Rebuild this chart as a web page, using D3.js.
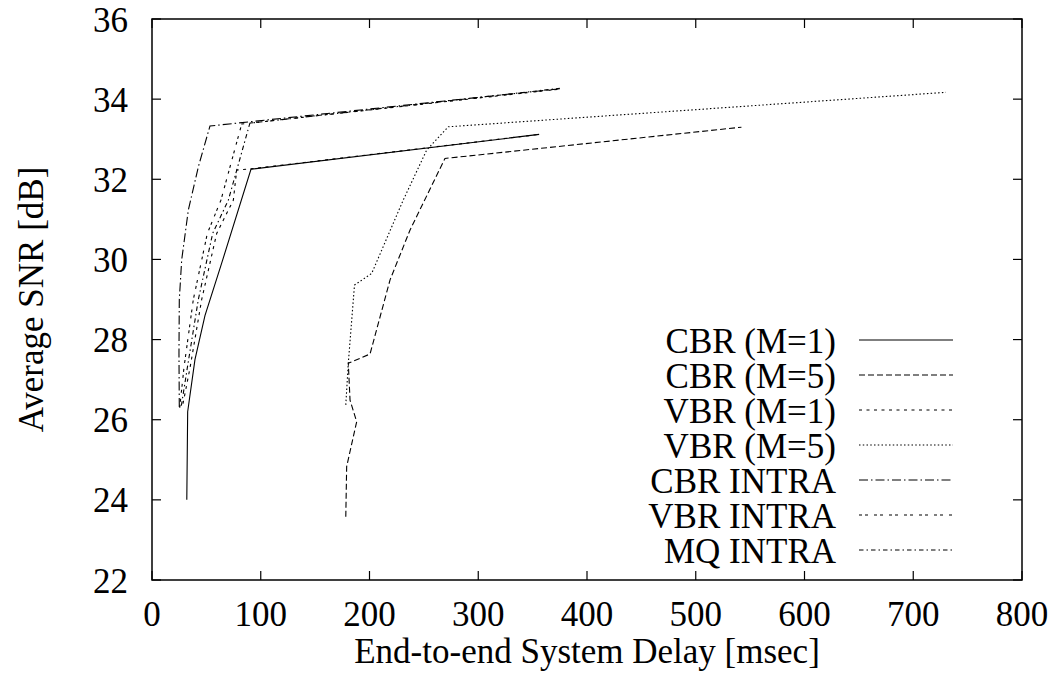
<!DOCTYPE html>
<html>
<head>
<meta charset="utf-8">
<script src="https://cdn.jsdelivr.net/npm/d3@7"></script>
<style>
  body { margin: 0; background: #fff; }
  svg { display: block; }
  text { font-family: "Liberation Serif", "DejaVu Serif", serif; fill: #000; }
</style>
</head>
<body>
<svg width="1055" height="693"></svg>
<script>
// Delay [msec] / average SNR [dB], one pair of arrays per curve
const cbrM1Delay = [32, 32.8, 39.5, 48.7, 64, 91, 356]
const cbrM1Snr = [24.0, 26.2, 27.5, 28.6, 29.9, 32.25, 33.12]

const cbrM5Delay = [178.2, 179.0, 188.2, 182.1, 180.5, 200.5, 218.9, 237.2, 269.4, 542]
const cbrM5Snr = [23.58, 24.83, 25.95, 26.49, 27.41, 27.64, 29.49, 30.73, 32.52, 33.3]

const vbrM1Delay = [28.5, 35, 45.7, 59.5, 74.8, 77.9, 91, 356]
const vbrM1Snr = [26.4, 27.3, 29.0, 30.65, 31.48, 32.23, 32.26, 33.12]

const vbrM5Delay = [178.2, 180.5, 186.2, 202, 231, 252.6, 272.5, 730]
const vbrM5Snr = [26.37, 27.41, 29.36, 29.65, 31.48, 32.73, 33.31, 34.17]

const cbrIntraDelay = [25.1, 24.8, 25.1, 27.3, 33.4, 42.6, 53.3, 375]
const cbrIntraSnr = [26.32, 27.66, 28.99, 29.99, 31.23, 32.31, 33.33, 34.26]

const vbrIntraDelay = [25.5, 29.4, 38, 50.9, 63.4, 82.5, 375]
const vbrIntraSnr = [26.3, 27.3, 29.0, 30.65, 31.48, 33.38, 34.25]

const mqIntraDelay = [27, 32.5, 42.6, 55.8, 70.2, 90, 375]
const mqIntraSnr = [26.35, 27.3, 29.0, 30.65, 31.48, 33.4, 34.27]

const seriesNames = ['CBR (M=1)', 'CBR (M=5)', 'VBR (M=1)', 'VBR (M=5)', 'CBR INTRA', 'VBR INTRA', 'MQ INTRA']
const xTicks = [0, 100, 200, 300, 400, 500, 600, 700, 800]
const yTicks = [22, 24, 26, 28, 30, 32, 34, 36]

// gnuplot style dash patterns, one per curve
const dashes = ['none', '6,3', '3,4.5', '1.5,2.25', '9,3,1.5,3', '3,3,3,6', '4.5,3,1.5,3']

const series = [
  [cbrM1Delay, cbrM1Snr],
  [cbrM5Delay, cbrM5Snr],
  [vbrM1Delay, vbrM1Snr],
  [vbrM5Delay, vbrM5Snr],
  [cbrIntraDelay, cbrIntraSnr],
  [vbrIntraDelay, vbrIntraSnr],
  [mqIntraDelay, mqIntraSnr],
].map(([xs, ys], i) => ({
  name: seriesNames[i],
  dash: dashes[i],
  points: xs.map((x, j) => ({ x, y: ys[j] })),
}))

// plot frame in pixels
const frame = { left: 152, right: 1022, top: 19, bottom: 580 }
const tickLen = 9
const fontSize = 35

const x = d3.scaleLinear().domain([0, 800]).range([frame.left, frame.right])
const y = d3.scaleLinear().domain([22, 36]).range([frame.bottom, frame.top])

const svg = d3.select('svg')

// ticks on all four sides, pointing inward
const ticks = svg.append('g').attr('stroke', '#000').attr('stroke-width', 1.2)
xTicks.forEach((t) => {
  ticks.append('line').attr('x1', x(t)).attr('x2', x(t)).attr('y1', frame.bottom).attr('y2', frame.bottom - tickLen)
  ticks.append('line').attr('x1', x(t)).attr('x2', x(t)).attr('y1', frame.top).attr('y2', frame.top + tickLen)
})
yTicks.forEach((t) => {
  ticks.append('line').attr('x1', frame.left).attr('x2', frame.left + tickLen).attr('y1', y(t)).attr('y2', y(t))
  ticks.append('line').attr('x1', frame.right).attr('x2', frame.right - tickLen).attr('y1', y(t)).attr('y2', y(t))
})

// tick labels
svg.append('g')
  .selectAll('text')
  .data(xTicks)
  .join('text')
  .attr('x', (d) => x(d))
  .attr('y', 626)
  .attr('text-anchor', 'middle')
  .attr('font-size', fontSize)
  .text((d) => d)

svg.append('g')
  .selectAll('text')
  .data(yTicks)
  .join('text')
  .attr('x', 128)
  .attr('y', (d) => y(d))
  .attr('dy', '0.36em')
  .attr('text-anchor', 'end')
  .attr('font-size', fontSize)
  .text((d) => d)

// axis titles
svg.append('text')
  .attr('x', (frame.left + frame.right) / 2)
  .attr('y', 663)
  .attr('text-anchor', 'middle')
  .attr('font-size', fontSize)
  .text('End-to-end System Delay [msec]')

svg.append('text')
  .attr('transform', `translate(43, ${(frame.top + frame.bottom) / 2}) rotate(-90)`)
  .attr('text-anchor', 'middle')
  .attr('font-size', fontSize)
  .text('Average SNR [dB]')

// curves
const line = d3.line().x((d) => x(d.x)).y((d) => y(d.y))

svg.append('g')
  .selectAll('path')
  .data(series)
  .join('path')
  .attr('d', (d) => line(d.points))
  .attr('fill', 'none')
  .attr('stroke', '#000')
  .attr('stroke-width', 1.1)
  .attr('stroke-dasharray', (d) => d.dash)

// legend, bottom right inside the frame
const legend = svg.append('g')
  .selectAll('g')
  .data(series)
  .join('g')
  .attr('transform', (_, i) => `translate(0, ${340 + i * 35})`)

legend.append('text')
  .attr('x', 836)
  .attr('dy', '0.36em')
  .attr('text-anchor', 'end')
  .attr('font-size', fontSize)
  .text((d) => d.name)

legend.append('line')
  .attr('x1', 859)
  .attr('x2', 953)
  .attr('stroke', '#000')
  .attr('stroke-width', 1.1)
  .attr('stroke-dasharray', (d) => d.dash)

// frame
svg.append('rect')
  .attr('x', frame.left)
  .attr('y', frame.top)
  .attr('width', frame.right - frame.left)
  .attr('height', frame.bottom - frame.top)
  .attr('fill', 'none')
  .attr('stroke', '#000')
  .attr('stroke-width', 1.5)
</script>
</body>
</html>
